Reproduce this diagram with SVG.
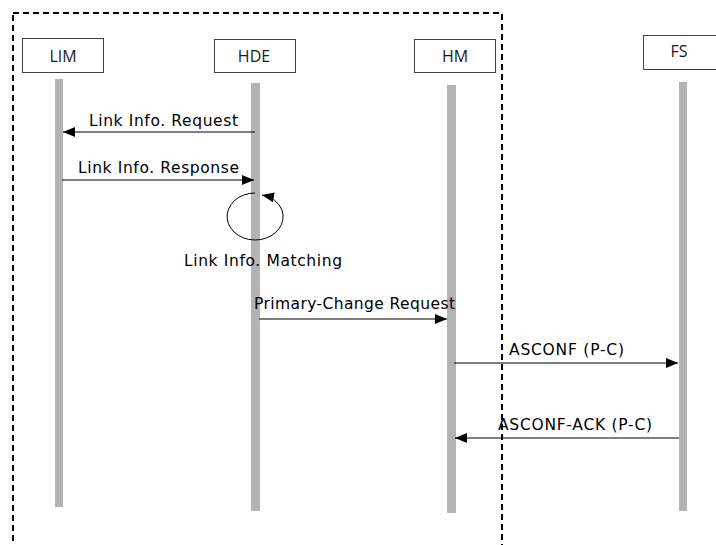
<svg xmlns="http://www.w3.org/2000/svg" width="716" height="545" viewBox="0 0 716 545">
<style>
.box{fill:#fff;stroke:#404040;stroke-width:1}
.lbl{font-family:"Open Sans","DejaVu Sans",sans-serif;font-size:16px;fill:#1a1a1a;text-anchor:middle}
.life{fill:#b3b3b3}
.msg{stroke:#000;stroke-width:1;fill:none}
.mt{font-family:"DejaVu Sans",sans-serif;font-size:15.5px;fill:#000}
</style>
<defs>
<marker id="ah" viewBox="0 0 12 10" refX="12" refY="5" markerWidth="12" markerHeight="10" markerUnits="userSpaceOnUse" orient="auto">
<path d="M0,0 L12,5 L0,10 Z" fill="#000"/>
</marker>
</defs>
<rect x="13" y="13" width="489" height="540" fill="none" stroke="#000" stroke-width="2" stroke-dasharray="6,4"/>
<g id="LIM">
<rect class="box" x="22.5" y="38.5" width="81" height="34"/>
<text class="lbl" x="63" y="62">LIM</text>
<rect class="life" x="55" y="79" width="8" height="428"/>
</g>
<g id="HDE">
<rect class="box" x="214.5" y="39.5" width="81" height="33"/>
<text class="lbl" x="254" y="62">HDE</text>
<rect class="life" x="251" y="83" width="9" height="428"/>
</g>
<g id="HM">
<rect class="box" x="414.5" y="39.5" width="81" height="33"/>
<text class="lbl" x="455" y="62">HM</text>
<rect class="life" x="447" y="85" width="9" height="428"/>
</g>
<g id="FS">
<rect class="box" x="643.5" y="35.5" width="80" height="34"/>
<text class="lbl" x="679" y="57">FS</text>
<rect class="life" x="679" y="82" width="8" height="429"/>
</g>
<g id="connectors">
<line class="msg" x1="255" y1="132" x2="63" y2="132" marker-end="url(#ah)"/>
<text class="mt" x="89" y="126" textLength="149">Link Info. Request</text>
<line class="msg" x1="62" y1="180" x2="254" y2="180" marker-end="url(#ah)"/>
<text class="mt" x="78" y="173" textLength="161">Link Info. Response</text>
<path class="msg" d="M255,193 A28,23.5 0 1 0 282,210 A28 23.5 0 0 0 262,195" marker-end="url(#ah)"/>
<text class="mt" x="184" y="266" textLength="158">Link Info. Matching</text>
<line class="msg" x1="259" y1="319" x2="447" y2="319" marker-end="url(#ah)"/>
<text class="mt" x="254" y="309" textLength="201">Primary-Change Request</text>
<line class="msg" x1="454" y1="363" x2="678" y2="363" marker-end="url(#ah)"/>
<text class="mt" x="509" y="355" textLength="115">ASCONF (P-C)</text>
<line class="msg" x1="679" y1="438" x2="455" y2="438" marker-end="url(#ah)"/>
<text class="mt" x="498" y="430" textLength="154">ASCONF-ACK (P-C)</text>
</g>
</svg>
